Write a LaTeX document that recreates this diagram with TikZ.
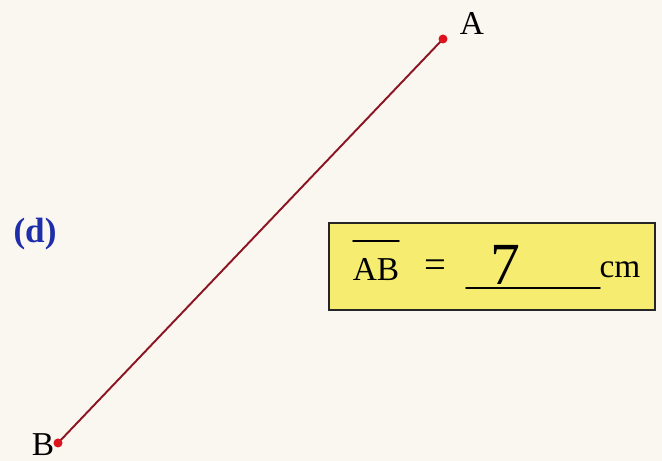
\documentclass[tikz,border=0pt]{standalone}
\usepackage{amsmath,amssymb}
\usepackage{fontspec}
\setmainfont{Liberation Serif}
\usepackage{tikz}
\usepackage{xcolor}
\definecolor{paper}{RGB}{250,247,240}
\definecolor{segred}{RGB}{140,20,35}
\definecolor{dotred}{RGB}{220,20,30}
\definecolor{boxyellow}{RGB}{246,236,112}
\definecolor{labelblue}{RGB}{30,45,170}

\begin{document}
\begin{tikzpicture}[font=\fontsize{19}{21}\selectfont,line cap=round]
\fill[paper] (0,0) rectangle (13.24,9.22);
\useasboundingbox (0,0) rectangle (13.24,9.22);
% segment AB
\coordinate (ptA) at (8.86,8.44);
\coordinate (ptB) at (1.16,0.36);
\draw[segred,line width=1.1pt] (ptA) -- (ptB);
\fill[dotred] (ptA) circle (0.09);
\fill[dotred] (ptB) circle (0.09);
\node (labA) at (9.44,8.76) {A};
\node (labB) at (0.86,0.33) {B};
\node[labelblue,font=\fontsize{20}{22}\selectfont\bfseries] (partd) at (0.70,4.53) {(d)};
% answer box
\draw[fill=boxyellow,draw=black!85,line width=1.2pt] (6.58,3.02) rectangle (13.10,4.76);
\node[inner sep=0pt] (ab) at (7.52,3.82) {AB};
\draw[line width=1.1pt] (7.06,4.40) -- (7.98,4.40);
\node (eq) at (8.70,3.84) {\fontsize{22}{24}\selectfont=};
\node[font=\fontsize{34}{36}\selectfont] (ans) at (10.10,3.92) {7};
\draw[line width=0.9pt] (9.32,3.46) -- (12.00,3.46);
\node (unit) at (12.40,3.82) {cm};
\end{tikzpicture}
\end{document}
